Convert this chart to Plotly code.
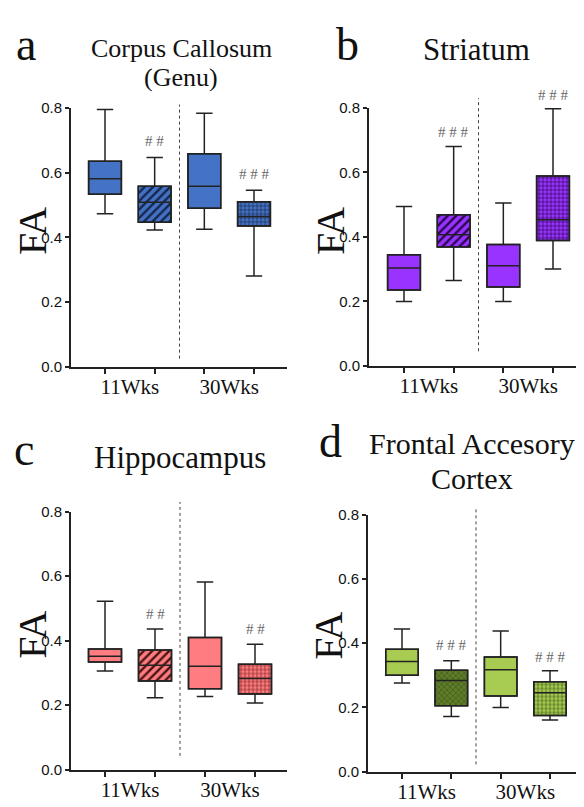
import plotly.graph_objects as go

# figure size; positions below are given in reference-picture pixels and mapped
# onto the figure (page offset 8px, slight vertical squeeze of the snapshot)
W, H = 576, 806
OFF_X = 8
SY, CY = 0.982, 9.0

# ---------------- data ----------------
slots = [0, 1, 2, 3]                 # box slots: 11Wks ctrl, 11Wks tg, 30Wks ctrl, 30Wks tg
group_pos = [0.5, 2.5]
group_labels = ["11Wks", "30Wks"]
yticks = [0.0, 0.2, 0.4, 0.6, 0.8]

# a  Corpus Callosum (Genu)
cc_lower = [0.473, 0.423, 0.425, 0.281]
cc_q1 = [0.533, 0.447, 0.490, 0.435]
cc_med = [0.581, 0.509, 0.558, 0.465]
cc_q3 = [0.635, 0.558, 0.658, 0.510]
cc_upper = [0.795, 0.647, 0.783, 0.546]
cc_sig = ["", "# #", "", "# # #"]
cc_sig_y = [None, 0.697, None, 0.597]

# b  Striatum
st_lower = [0.200, 0.265, 0.200, 0.301]
st_q1 = [0.236, 0.369, 0.245, 0.389]
st_med = [0.304, 0.407, 0.311, 0.453]
st_q3 = [0.345, 0.469, 0.377, 0.589]
st_upper = [0.494, 0.680, 0.505, 0.797]
st_sig = ["", "# # #", "", "# # #"]
st_sig_y = [None, 0.726, None, 0.841]

# c  Hippocampus
hp_lower = [0.306, 0.223, 0.227, 0.207]
hp_q1 = [0.334, 0.275, 0.251, 0.235]
hp_med = [0.352, 0.324, 0.321, 0.283]
hp_q3 = [0.374, 0.371, 0.410, 0.327]
hp_upper = [0.522, 0.436, 0.582, 0.389]
hp_sig = ["", "# #", "", "# #"]
hp_sig_y = [None, 0.482, None, 0.435]

# d  Frontal Accesory Cortex
fc_lower = [0.276, 0.172, 0.200, 0.161]
fc_q1 = [0.300, 0.205, 0.236, 0.175]
fc_med = [0.343, 0.284, 0.317, 0.246]
fc_q3 = [0.381, 0.316, 0.357, 0.280]
fc_upper = [0.444, 0.345, 0.438, 0.314]
fc_sig = ["", "# # #", "", "# # #"]
fc_sig_y = [None, 0.394, None, 0.358]

# ---------------- styling ----------------
SERIF = "Liberation Serif"
SANS = "Liberation Sans"
EDGE = "#222222"

def px_x(x):
    return min(max((x - OFF_X) / W, 0.0), 1.0)

def px_y(y):
    fy = (y - CY) / SY - 8
    return min(max(1 - fy / H, 0.0), 1.0)

panels = [
    dict(lower=cc_lower, q1=cc_q1, med=cc_med, q3=cc_q3, upper=cc_upper,
         sig=cc_sig, sig_y=cc_sig_y,
         fill=["#4472C4", "#4472C4", "#4472C4", "#4472C4"],
         fg=[None, "#14264d", None, "#14264d"],
         shape=["", "/", "", "+"],
         xpx=[71, 287], ypx=[368, 108], ticks_px=[105, 254], stand=0,
         div=[0.026, 0.81]),
    dict(lower=st_lower, q1=st_q1, med=st_med, q3=st_q3, upper=st_upper,
         sig=st_sig, sig_y=st_sig_y,
         fill=["#9933FF", "#9933FF", "#9933FF", "#9933FF"],
         fg=[None, "#2a0550", None, "#2a0550"],
         shape=["", "/", "", "+"],
         xpx=[369, 584], ypx=[367, 108], ticks_px=[404, 553], stand=0,
         div=[0.046, 0.83]),
    dict(lower=hp_lower, q1=hp_q1, med=hp_med, q3=hp_q3, upper=hp_upper,
         sig=hp_sig, sig_y=hp_sig_y,
         fill=["#FF7C80", "#FF7C80", "#FF7C80", "#FF7C80"],
         fg=[None, "#4a1414", None, "#7a2020"],
         shape=["", "/", "", "+"],
         xpx=[71, 287], ypx=[772, 513], ticks_px=[105, 255], stand=0,
         div=[0.043, 0.83]),
    dict(lower=fc_lower, q1=fc_q1, med=fc_med, q3=fc_q3, upper=fc_upper,
         sig=fc_sig, sig_y=fc_sig_y,
         fill=["#A8CC52", "#5F7D29", "#A8CC52", "#A8CC52"],
         fg=[None, "#3d5518", None, "#3d5518"],
         shape=["", "x", "", "+"],
         xpx=[368, 584], ypx=[774, 516], ticks_px=[402, 550], stand=0,
         div=[0.023, 0.82]),
]

fig = go.Figure()
annotations = []
shapes = []

for i, p in enumerate(panels):
    ax = "" if i == 0 else str(i + 1)
    xref, yref = "x" + ax, "y" + ax
    step = (p["ticks_px"][1] - p["ticks_px"][0]) / 3.0
    r0 = (p["xpx"][0] - p["ticks_px"][0]) / step
    right_px = min(p["xpx"][1], W + OFF_X)
    r1 = (right_px - p["ticks_px"][0]) / step
    xdom = [px_x(p["xpx"][0]), px_x(right_px)]
    ydom = [px_y(p["ypx"][0]), px_y(p["ypx"][1])]

    def yfrac(v):
        return ydom[0] + v / 0.8 * (ydom[1] - ydom[0])

    for k, s in enumerate(slots):
        pat = dict(shape=p["shape"][k])
        if p["shape"][k]:
            pat.update(fgcolor=p["fg"][k], bgcolor=p["fill"][k], fillmode="replace",
                       size=4 if p["shape"][k] != "/" else 6,
                       solidity=0.3 if p["shape"][k] != "/" else 0.4)
        fig.add_trace(go.Bar(
            x=[s], y=[p["q3"][k] - p["q1"][k]], base=[p["q1"][k]], width=0.66,
            marker=dict(color=p["fill"][k], line=dict(color=EDGE, width=1.5), pattern=pat),
            xaxis=xref, yaxis=yref, showlegend=False, hoverinfo="skip"))
        fig.add_trace(go.Box(
            x=[s], q1=[p["q1"][k]], median=[p["med"][k]], q3=[p["q3"][k]],
            lowerfence=[p["lower"][k]], upperfence=[p["upper"][k]],
            width=0.66, whiskerwidth=0.5, fillcolor="rgba(0,0,0,0)",
            line=dict(color=EDGE, width=1.5), boxpoints=False,
            xaxis=xref, yaxis=yref, showlegend=False))
        if p["sig"][k]:
            annotations.append(dict(x=s, y=yfrac(p["sig_y"][k]), xref=xref, yref="paper",
                                    text=p["sig"][k], showarrow=False, yanchor="middle",
                                    font=dict(family=SERIF, size=15, color="#666666")))
    xm = xdom[0] + (1.5 - r0) / (r1 - r0) * (xdom[1] - xdom[0])
    shapes.append(dict(type="line", xref="paper", yref="paper", x0=xm, x1=xm,
                       y0=yfrac(p["div"][0]), y1=yfrac(p["div"][1]),
                       line=dict(color="#444444", width=1, dash="dot")))

    xa = dict(domain=xdom, range=[r0, r1], anchor=yref, showline=True, linewidth=2,
              linecolor=EDGE, tickmode="array", tickvals=group_pos, ticktext=group_labels,
              ticks="", showgrid=False, zeroline=False, ticklabelstandoff=p["stand"],
              tickfont=dict(family=SERIF, size=21, color="#111111"),
              minor=dict(tickmode="array", tickvals=slots, ticks="outside", ticklen=5,
                         tickwidth=1.5, tickcolor=EDGE, showgrid=False))
    ya = dict(domain=ydom, range=[0, 0.8], anchor=xref, showline=True, linewidth=2,
              linecolor=EDGE, tickmode="array", tickvals=yticks, tickformat=".1f",
              ticks="outside", ticklen=4, tickwidth=1.5, tickcolor=EDGE,
              showgrid=False, zeroline=False,
              tickfont=dict(family=SANS, size=15, color="#111111"))
    fig.update_layout(**{"xaxis" + ax: xa, "yaxis" + ax: ya})

# panel letters (box top kept inside the figure)
for t, x, y in [("a", 26, None), ("b", 347, None), ("c", 24, 423), ("d", 330, 415)]:
    annotations.append(dict(x=px_x(x), y=1.0 if y is None else px_y(y), xref="paper",
                            yref="paper", text=t, showarrow=False, xanchor="center",
                            yanchor="top", font=dict(family=SERIF, size=46, color="#111111")))
# titles (reference pixel centres)
texts = [
    ("Corpus Callosum", 181, 48, 26), ("(Genu)", 181, 78, 26),
    ("Striatum", 476, 49, 31), ("Hippocampus", 180, 459, 31),
    ("Frontal Accesory", 472, 445, 30), ("Cortex", 472, 480, 30),
]
for t, x, y, s in texts:
    annotations.append(dict(x=px_x(x), y=px_y(y), xref="paper", yref="paper", text=t,
                            showarrow=False, xanchor="center", yanchor="middle",
                            font=dict(family=SERIF, size=s, color="#111111")))
# FA axis titles
for x, y in [(8, 232), (306, 232), (8, 637), (304, 638)]:
    annotations.append(dict(x=px_x(x), y=px_y(y), xref="paper", yref="paper", text="FA",
                            showarrow=False, textangle=-90, xanchor="left", yanchor="middle",
                            font=dict(family=SERIF, size=40, color="#111111")))

fig.update_layout(width=W, height=H, margin=dict(l=0, r=0, t=0, b=0),
                  paper_bgcolor="white", plot_bgcolor="white",
                  barmode="overlay", boxmode="overlay",
                  annotations=annotations, shapes=shapes, showlegend=False)

fig.write_html("out.html")
